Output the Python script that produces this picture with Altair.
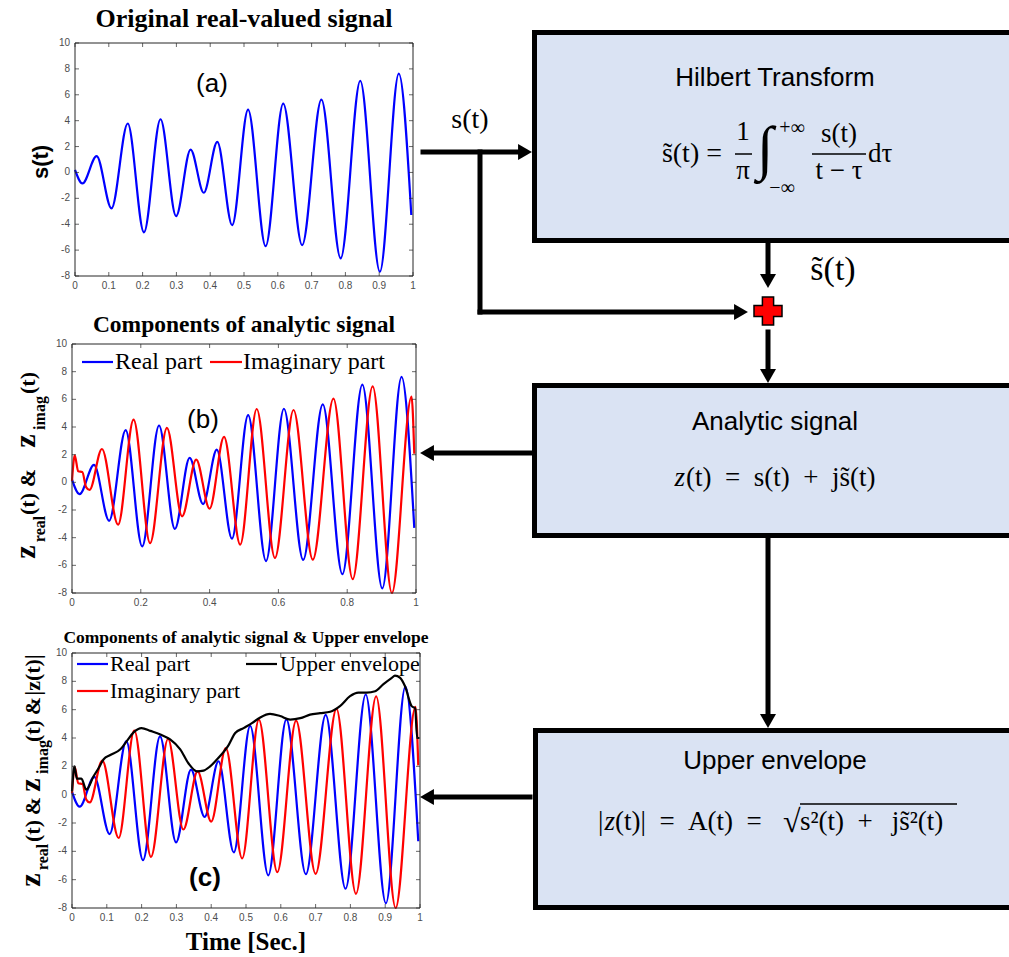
import altair as alt
import pandas as pd

# ---------------- data ----------------
# real part s(t): extrema
t_real = [0.0, 0.022, 0.064, 0.108, 0.156, 0.204, 0.253, 0.299, 0.342, 0.381, 0.421,
          0.465, 0.512, 0.564, 0.616, 0.672, 0.729, 0.786, 0.844, 0.902, 0.958, 0.995]
v_real = [0.2, -0.85, 1.26, -2.78, 3.78, -4.63, 4.11, -3.37, 1.77, -1.57, 2.36,
          -4.07, 4.86, -5.69, 5.32, -5.61, 5.63, -6.64, 7.07, -7.67, 7.63, -3.29]
# imaginary part (Hilbert transform)
t_imag = [0.0, 0.008, 0.018, 0.030, 0.041, 0.051, 0.087, 0.134, 0.179, 0.227, 0.276,
          0.320, 0.361, 0.400, 0.442, 0.489, 0.537, 0.590, 0.644, 0.700, 0.760, 0.816,
          0.874, 0.930, 0.987, 0.995]
v_imag = [0.1, 1.95, 0.8, 0.75, -0.35, -0.55, 2.41, -3.06, 4.53, -4.39, 3.93,
          -2.46, 1.64, -1.9, 3.28, -4.5, 5.3, -5.47, 5.23, -5.59, 6.05, -7.0,
          6.94, -8.0, 6.2, 2.07]
# upper envelope |z(t)|
t_env = [0.0, 0.007, 0.014, 0.027, 0.041, 0.062, 0.077, 0.091, 0.110, 0.139, 0.158,
         0.177, 0.200, 0.225, 0.254, 0.282, 0.311, 0.335, 0.359, 0.378, 0.397, 0.421,
         0.450, 0.469, 0.493, 0.517, 0.541, 0.569, 0.598, 0.627, 0.656, 0.684, 0.713,
         0.742, 0.770, 0.799, 0.823, 0.847, 0.871, 0.895, 0.919, 0.928, 0.943, 0.957,
         0.976, 0.986, 0.992, 0.998]
v_env = [0.24, 2.0, 1.13, 1.13, 0.35, 1.3, 1.9, 2.5, 2.8, 3.2, 3.8,
         4.4, 4.7, 4.5, 4.25, 3.9, 3.2, 2.2, 1.65, 1.7, 2.0, 2.6,
         3.5, 4.35, 4.7, 5.05, 5.45, 5.7, 5.55, 5.3, 5.4, 5.65, 5.75,
         5.85, 6.25, 6.95, 7.2, 7.2, 7.3, 7.8, 8.25, 8.4, 8.25, 7.65,
         6.25, 6.1, 4.0, 4.0]

x_ticks_a = [0, 0.1, 0.2, 0.3, 0.4, 0.5, 0.6, 0.7, 0.8, 0.9, 1]
x_ticks_b = [0, 0.2, 0.4, 0.6, 0.8, 1]
x_ticks_c = [0, 0.1, 0.2, 0.3, 0.4, 0.5, 0.6, 0.7, 0.8, 0.9, 1]
y_ticks = [-8, -6, -4, -2, 0, 2, 4, 6, 8, 10]

real_df = pd.DataFrame({"t": t_real, "v": v_real})
imag_df = pd.DataFrame({"t": t_imag, "v": v_imag})
env_df = pd.DataFrame({"t": t_env, "v": v_env})

# ---------------- layout (pixels) ----------------
W, H = 1009, 957
BLUE, RED, BLACK = "#0000ff", "#ff0000", "#000000"
FRAME = "#262626"
LAB = "#4d4d4d"
SANS = "Liberation Sans"
SERIF = "Liberation Serif"


def fmt(v):
    return f"{v:g}"


def panel(xr, yr, xticks, lines):
    xs = alt.Scale(domain=[0, 1], range=list(xr), nice=False, zero=False)
    ys = alt.Scale(domain=[-8, 10], range=list(yr), nice=False, zero=False)
    layers = []
    for df, col in lines:
        layers.append(
            alt.Chart(df).mark_line(color=col, strokeWidth=2.2, interpolate="monotone").encode(
                x=alt.X("t:Q", scale=xs, axis=None),
                y=alt.Y("v:Q", scale=ys, axis=None),
            )
        )
    # frame
    fr = pd.DataFrame({"x0": [0], "x1": [1], "y0": [-8], "y1": [10]})
    layers.append(
        alt.Chart(fr).mark_rect(fillOpacity=0, stroke=FRAME, strokeWidth=1).encode(
            x=alt.X("x0:Q", scale=xs, axis=None), x2="x1:Q",
            y=alt.Y("y0:Q", scale=ys, axis=None), y2="y1:Q",
        )
    )
    # inward ticks
    xt = pd.DataFrame({"t": xticks, "lo": [-8] * len(xticks), "hi": [10] * len(xticks),
                       "lab": [fmt(v) for v in xticks]})
    yt = pd.DataFrame({"v": y_ticks, "l": [0] * len(y_ticks), "r": [1] * len(y_ticks),
                       "lab": [fmt(v) for v in y_ticks]})
    layers.append(alt.Chart(xt).mark_tick(orient="vertical", size=4, thickness=1,
                                          color=FRAME, yOffset=-2).encode(
        x=alt.X("t:Q", scale=xs, axis=None), y=alt.Y("lo:Q", scale=ys, axis=None)))
    layers.append(alt.Chart(xt).mark_tick(orient="vertical", size=4, thickness=1,
                                          color=FRAME, yOffset=2).encode(
        x=alt.X("t:Q", scale=xs, axis=None), y=alt.Y("hi:Q", scale=ys, axis=None)))
    layers.append(alt.Chart(yt).mark_tick(orient="horizontal", size=4, thickness=1,
                                          color=FRAME, xOffset=2).encode(
        x=alt.X("l:Q", scale=xs, axis=None), y=alt.Y("v:Q", scale=ys, axis=None)))
    layers.append(alt.Chart(yt).mark_tick(orient="horizontal", size=4, thickness=1,
                                          color=FRAME, xOffset=-2).encode(
        x=alt.X("r:Q", scale=xs, axis=None), y=alt.Y("v:Q", scale=ys, axis=None)))
    # tick labels
    layers.append(alt.Chart(xt).mark_text(baseline="top", dy=5, fontSize=10, font=SANS,
                                          color=LAB).encode(
        x=alt.X("t:Q", scale=xs, axis=None), y=alt.Y("lo:Q", scale=ys, axis=None),
        text="lab:N"))
    layers.append(alt.Chart(yt).mark_text(align="right", baseline="middle", dx=-5,
                                          fontSize=10, font=SANS, color=LAB).encode(
        x=alt.X("l:Q", scale=xs, axis=None), y=alt.Y("v:Q", scale=ys, axis=None),
        text="lab:N"))
    return alt.layer(*layers)


pa = panel((75, 413), (276, 43), x_ticks_a, [(real_df, BLUE)])
pb = panel((72, 416), (593, 344), x_ticks_b, [(real_df, BLUE), (imag_df, RED)])
pc = panel((72, 420), (908, 653), x_ticks_c, [(real_df, BLUE), (imag_df, RED), (env_df, BLACK)])

# ---------------- diagram / annotation layer in pixel space ----------------
PX = alt.Scale(domain=[0, W], range=[0, W], nice=False, zero=False)
PY = alt.Scale(domain=[0, H], range=[0, H], nice=False, zero=False)


def XY(xf="x", yf="y"):
    return dict(x=alt.X(f"{xf}:Q", scale=PX, axis=None), y=alt.Y(f"{yf}:Q", scale=PY, axis=None))


def texts(rows, font, weight="normal", style="normal", align="center",
          baseline="middle", angle=0, color="black"):
    df = pd.DataFrame(rows, columns=["text", "x", "y", "size"])
    kw = dict(font=font, fontWeight=weight, fontStyle=style, align=align,
              baseline=baseline, color=color)
    if angle:
        kw["angle"] = angle
    return alt.Chart(df).mark_text(**kw).encode(
        text="text:N", size=alt.Size("size:Q", scale=None), **XY())


boxes = pd.DataFrame({
    "x": [534.5, 534.5, 535.5], "x2": [1015, 1015, 1015],
    "y": [32.5, 385.5, 730.5], "y2": [240.5, 535.5, 907.5],
})
box_layer = alt.Chart(boxes).mark_rect(fill="#dae3f3", stroke="black", strokeWidth=5).encode(
    x2="x2:Q", y2="y2:Q", **XY())

arrows = pd.DataFrame({
    "x":  [423, 480, 480, 768, 768, 530, 768, 530],
    "x2": [520, 480, 737, 768, 768, 433, 768, 433],
    "y":  [152, 152, 312, 243, 332, 453, 538, 797],
    "y2": [152, 312, 312, 276, 371, 453, 716, 797],
})
arrow_layer = alt.Chart(arrows).mark_rule(strokeWidth=5, color="black", strokeCap="square").encode(
    x2="x2:Q", y2="y2:Q", **XY())

heads = pd.DataFrame({
    "x": [525, 741, 768, 768, 427, 768, 427],
    "y": [152, 312, 281, 376, 453, 721, 797],
    "shape": ["triangle-right", "triangle-right", "triangle-down", "triangle-down",
              "triangle-left", "triangle-down", "triangle-left"],
})
head_layer = alt.Chart(heads).mark_point(filled=True, size=256, color="black", opacity=1).encode(
    shape=alt.Shape("shape:N", scale=None), **XY())

plus = pd.DataFrame({"x": [768], "y": [311]})
plus_layer = alt.Chart(plus).mark_point(shape="cross", filled=True, size=784, fill="#ff0000",
                                        stroke="black", strokeWidth=1.5, opacity=1).encode(**XY())

# thin rules: fraction bars, sqrt bar
thin = pd.DataFrame({
    "x":  [735, 812, 800],
    "x2": [752, 866, 957],
    "y":  [154, 154, 804],
    "y2": [154, 154, 804],
})
thin_layer = alt.Chart(thin).mark_rule(strokeWidth=1.5, color="black").encode(
    x2="x2:Q", y2="y2:Q", **XY())

leg = pd.DataFrame({
    "x":  [82, 210, 77, 246, 77],
    "x2": [113, 242, 108, 277, 108],
    "y":  [362, 362, 664, 664, 691],
    "c":  [BLUE, RED, BLUE, BLACK, RED],
})
leg_layer = alt.Chart(leg).mark_rule(strokeWidth=2.2).encode(
    x2="x2:Q", y2="y:Q", color=alt.Color("c:N", scale=None), **XY())

ST = "s\u0303"
EN = "\u2002"
TH = "\u2009"

t_box = texts([("Hilbert Transform", 775, 78, 26), ("Analytic signal", 775, 422, 26),
               ("Upper envelope", 775, 761, 26), ("(a)", 212, 84, 26), ("(b)", 203, 420, 26)], SANS)
t_c = texts([("(c)", 205, 878, 26)], SANS, weight="bold")
t_st = texts([("s(t)", 41, 162, 22)], SANS, weight="bold", angle=270)

t_titles = texts([("Original real-valued signal", 244, 19, 26),
                  ("Components of analytic signal", 244, 325, 23.5),
                  ("Components of analytic signal & Upper envelope", 246, 638, 17.5),
                  ("Time [Sec.]", 246, 942, 25)], SERIF, weight="bold")

t_leg = texts([("Real part", 115, 362, 24), ("Imaginary part", 243, 362, 24),
               ("Real part", 110, 664, 22), ("Upper envelope", 280, 664, 22),
               ("Imaginary part", 110, 691, 22)], SERIF, align="left")

t_form_c = texts([("s(t)", 470, 128, 28), (ST + "(t)", 833, 280, 34),
                  ("1", 743, 140, 27), ("\u03c0", 743, 179, 27),
                  ("\u222b", 765, 168, 60),
                  ("+\u221e", 792, 134, 20), ("\u2212\u221e", 782, 194, 20),
                  ("s(t)", 839, 142, 27), ("t \u2212 \u03c4", 839, 179, 27)], SERIF,
                 baseline="alphabetic")
t_form_l = texts([("d\u03c4", 868, 162, 27),
                  ("(t)" + EN + "=" + EN + "s(t)" + EN + "+" + EN + "j" + ST + "(t)", 686, 486, 27),
                  ("|", 598, 830, 27),
                  ("(t)|" + EN + "=" + EN + "A(t)" + EN + "=", 615, 830, 27),
                  ("\u221a", 783, 832, 32),
                  ("s\u00b2(t)" + EN + "+" + EN + TH + "j" + ST + "\u00b2(t)", 800, 830, 27)], SERIF,
                 align="left", baseline="alphabetic")
t_form_r = texts([(ST + "(t) =", 722, 162, 28)], SERIF, align="right",
                 baseline="alphabetic")
t_z = texts([("z", 685, 486, 27), ("z", 615, 830, 27)], SERIF, style="italic",
            align="right", baseline="alphabetic")

# rotated y-axis titles with subscripts
t_ymain = texts([("z", 35, 552, 30), ("(t)", 35, 504, 22), ("&", 35, 478, 22),
                 ("z", 35, 441, 30), ("(t)", 35, 383, 22),
                 ("z", 40, 880, 30), ("(t)", 40, 831, 22), ("&", 40, 806, 22),
                 ("z", 40, 785, 30), ("(t)", 40, 731, 22), ("&", 40, 706, 22),
                 ("|z(t)|", 40, 675, 22)], SERIF, weight="bold", baseline="alphabetic",
                angle=270)
t_ysub = texts([("real", 45, 529, 16), ("imag", 45, 413, 16),
                ("real", 48, 857, 16), ("imag", 48, 757, 16)], SERIF, weight="bold",
               baseline="alphabetic", angle=270)

flow = alt.layer(box_layer, arrow_layer, head_layer, plus_layer, thin_layer, leg_layer,
                 t_box, t_c, t_st, t_titles, t_leg, t_form_c, t_form_l, t_form_r, t_z,
                 t_ymain, t_ysub)

chart = alt.layer(pa, pb, pc, flow).resolve_scale(
    x="independent", y="independent"
).properties(
    width=W, height=H, autosize=alt.AutoSizeParams(type="none"), padding=0,
    background="white",
).configure_view(stroke=None)

chart.save("out.html", embed_options={"renderer": "svg", "actions": False})
